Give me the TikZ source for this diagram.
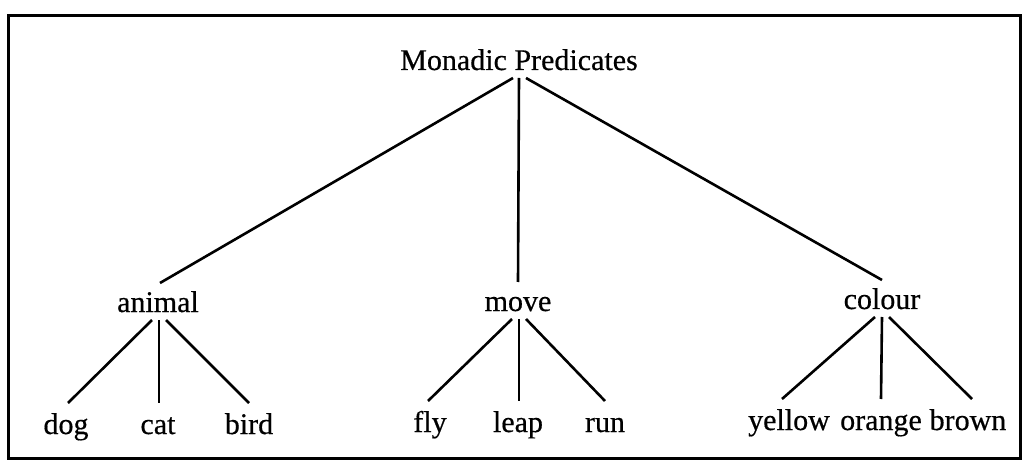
\documentclass[tikz,border=0pt]{standalone}
\usepackage{fontspec}
\setmainfont{Liberation Serif}
\newfontfamily\lblfont{Liberation Serif}[FakeBold=0.5]
\begin{document}
\begin{tikzpicture}[x=1pt,y=1pt,
  lbl/.style={font=\fontsize{30}{36}\lblfont, inner sep=0pt, anchor=base},
  edge/.style={line width=2.6pt},
  frame/.style={line width=3pt}]
\useasboundingbox (0,0) rectangle (1023,464);
\draw[frame] (8,448) rectangle (1020,6);
% nodes (base positions)
\node[lbl] (top) at (519,394) {Monadic Predicates};
\node[lbl] (animal) at (158,152) {animal};
\node[lbl] (move) at (518,153) {move};
\node[lbl] (colour) at (882,155) {colour};
\node[lbl] (dog) at (66,30) {dog};
\node[lbl] (cat) at (158,30) {cat};
\node[lbl] (bird) at (249,30) {bird};
\node[lbl] (fly) at (430,32) {fly};
\node[lbl] (leap) at (518,32) {leap};
\node[lbl] (run) at (605,32) {run};
\node[lbl] (yellow) at (789,34) {yellow};
\node[lbl] (orange) at (881,34) {orange};
\node[lbl] (brown) at (968,34) {brown};
% edges
\draw[edge] ([shift={(-6,-8)}]top.base) -- ([shift={(2,29)}]animal.base);
\draw[edge] ([shift={(0,-8)}]top.base) -- ([shift={(0,29)}]move.base);
\draw[edge] ([shift={(7,-8)}]top.base) -- ([shift={(0,29)}]colour.base);
\draw[edge] ([shift={(-6,-8)}]animal.base) -- ([shift={(2,31)}]dog.base);
\draw[edge] ([shift={(1,-8)}]animal.base) -- ([shift={(1,31)}]cat.base);
\draw[edge] ([shift={(8,-8)}]animal.base) -- ([shift={(0,31)}]bird.base);
\draw[edge] ([shift={(-6,-8)}]move.base) -- ([shift={(-2,31)}]fly.base);
\draw[edge] ([shift={(1,-8)}]move.base) -- ([shift={(1,31)}]leap.base);
\draw[edge] ([shift={(8,-8)}]move.base) -- ([shift={(0,31)}]run.base);
\draw[edge] ([shift={(-7,-8)}]colour.base) -- ([shift={(-7,31)}]yellow.base);
\draw[edge] ([shift={(0,-8)}]colour.base) -- ([shift={(0,31)}]orange.base);
\draw[edge] ([shift={(7,-8)}]colour.base) -- ([shift={(4,31)}]brown.base);
\end{tikzpicture}
\end{document}
